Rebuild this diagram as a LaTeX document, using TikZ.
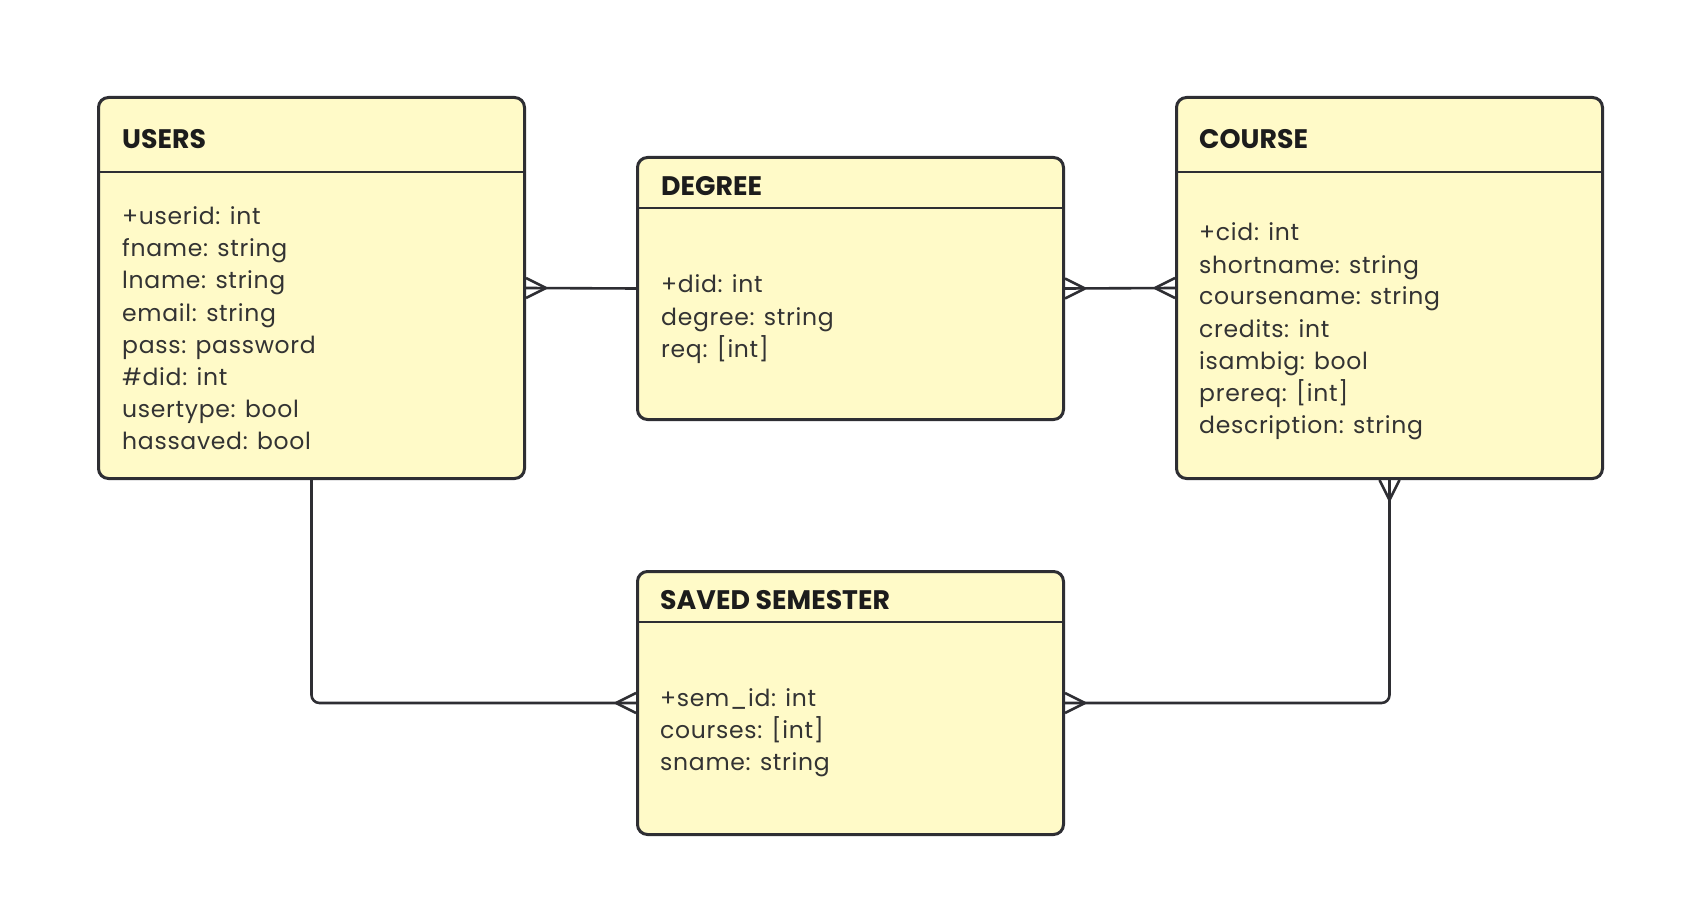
\documentclass[tikz,border=0pt]{standalone}
\usepackage{fontspec}
\setmainfont{Poppins}
\usetikzlibrary{calc}
\definecolor{boxfill}{RGB}{255,250,200}
\definecolor{boxline}{RGB}{46,46,51}
\definecolor{bodytext}{RGB}{51,51,51}
\definecolor{headtext}{RGB}{28,28,28}
\begin{document}
\begin{tikzpicture}[x=1pt,y=-1pt,
  entity/.style={draw=boxline, fill=boxfill, line width=3pt, rounded corners=10pt, inner sep=0pt, anchor=north west},
  divider/.style={draw=boxline, line width=2.7pt},
  conn/.style={draw=boxline, line width=2.6pt},
  title/.style={anchor=base west, inner sep=0pt, text=headtext, font=\fontsize{26.8}{30}\selectfont\bfseries},
  field/.style={anchor=base west, inner sep=0pt, text=bodytext, font=\fontsize{23.5}{32}\selectfont\addfontfeature{LetterSpace=3}},
  crow/.pic={\draw[conn] (20,0) -- (0,10) (20,0) -- (0,-10);}
]
\useasboundingbox (0,0) rectangle (1702,917);
\fill[white] (0,0) rectangle (1702,917);

% entities
\node[entity, minimum width=426pt, minimum height=381pt] (users) at (97,96) {};
\node[entity, minimum width=426pt, minimum height=262pt] (degree) at (636,156) {};
\node[entity, minimum width=426pt, minimum height=381pt] (course) at (1175,96) {};
\node[entity, minimum width=426pt, minimum height=263pt] (saved) at (636,570) {};

% dividers
\draw[divider] ($(users.north west)+(0,76)$) -- ($(users.north east)+(0,76)$);
\draw[divider] ($(course.north west)+(0,76)$) -- ($(course.north east)+(0,76)$);
\draw[divider] ($(degree.north west)+(0,52)$) -- ($(degree.north east)+(0,52)$);
\draw[divider] ($(saved.north west)+(0,52)$) -- ($(saved.north east)+(0,52)$);

% titles
\node[title] (users-t) at (122,149) {USERS};
\node[title] (course-t) at (1199,149) {COURSE};
\node[title] (degree-t) at (661,196) {DEGREE};
\node[title] (saved-t) at (660,609) {SAVED SEMESTER};

% fields
\foreach \t [count=\i from 0] in {{+userid: int},{fname: string},{lname: string},{email: string},{pass: password},{\#did: int},{usertype: bool},{hassaved: bool}}
  \node[field] (users-f\i) at (122,225+32*\i) {\t};
\foreach \t [count=\i from 0] in {{+cid: int},{shortname: string},{coursename: string},{credits: int},{isambig: bool},{prereq: [int]},{description: string}}
  \node[field] (course-f\i) at (1199,241+32*\i) {\t};
\foreach \t [count=\i from 0] in {{+did: int},{degree: string},{req: [int]}}
  \node[field] (degree-f\i) at (661,293+32*\i) {\t};
\foreach \t [count=\i from 0] in {{+sem\_id: int},{courses: [int]},{sname: string}}
  \node[field] (saved-f\i) at (660,706+32*\i) {\t};

% connectors
\draw[conn] (users.east) -- (degree.west);
\draw[conn] (degree.east) -- (course.west);
\draw[conn, rounded corners=8pt] (users.south) |- (saved.west);
\draw[conn, rounded corners=8pt] (course.south) |- (saved.east);

% crow's feet
\pic at (users.east) {crow};
\pic at (degree.east) {crow};
\pic[rotate=180] at (course.west) {crow};
\pic[rotate=-90] at (course.south) {crow};
\pic[rotate=180] at (saved.west) {crow};
\pic at (saved.east) {crow};
\end{tikzpicture}
\end{document}
